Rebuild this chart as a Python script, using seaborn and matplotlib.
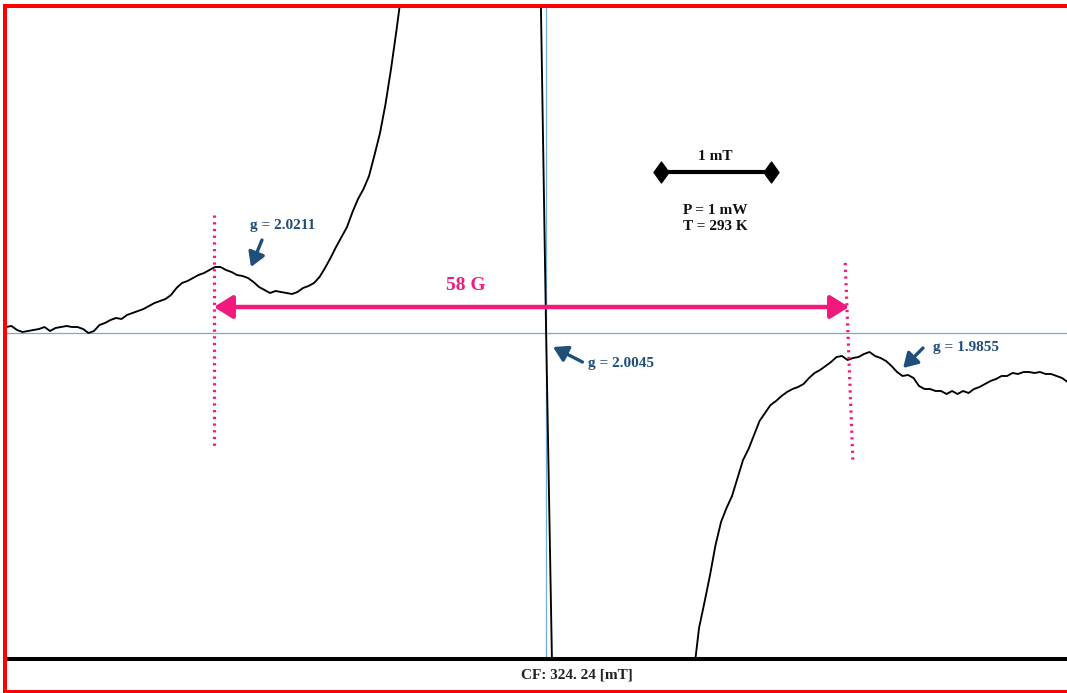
import numpy as np
import pandas as pd
import seaborn as sns
import matplotlib
matplotlib.use("Agg")
import matplotlib.pyplot as plt
from matplotlib.lines import Line2D
from matplotlib.patches import ArrowStyle
from matplotlib import transforms
from matplotlib.path import Path

# --- EPR spectrum (field in mT, signal in a.u.) ---
low_field = [319.05, 319.10, 319.15, 319.20, 319.25, 319.30, 319.35, 319.40, 319.45, 319.50,
             319.55, 319.60, 319.65, 319.70, 319.75, 319.80, 319.85, 319.90, 319.95, 320.00,
             320.05, 320.10, 320.15, 320.20, 320.25, 320.30, 320.35, 320.40, 320.45, 320.50,
             320.55, 320.60, 320.65, 320.70, 320.75, 320.80, 320.85, 320.90, 320.95, 321.00,
             321.05, 321.10, 321.15, 321.20, 321.25, 321.30, 321.35, 321.40, 321.45, 321.50,
             321.55, 321.60, 321.65, 321.70, 321.75, 321.80, 321.85, 321.90, 321.95, 322.00,
             322.05, 322.10, 322.15, 322.20, 322.25, 322.30, 322.35, 322.40, 322.45, 322.50,
             322.55, 322.60, 322.65]
low_signal = [6, 7, 3, 1, 2, 3, 4, 6, 2, 5,
              6, 7, 6, 6, 4, 0, 2, 8, 10, 13,
              15, 14, 18, 20, 22, 24, 27, 30, 32, 34,
              38, 45, 50, 52, 55, 58, 60, 63, 66, 66,
              63, 61, 58, 57, 55, 51, 46, 43, 40, 42,
              41, 40, 39, 41, 45, 47, 50, 56, 65, 75,
              86, 96, 106, 121, 134, 144, 157, 178, 200, 229,
              264, 303, 345]

mid_field = [322.75, 322.90, 323.20, 323.50, 323.70, 323.82, 323.91, 323.96, 324.015,
             324.10, 324.40, 324.80, 325.10, 325.25]
mid_signal = [560, 880, 1350, 1550, 1400, 1000, 345, 0, -340,
              -1100, -1500, -1300, -800, -480]

high_field = [325.30, 325.35, 325.40, 325.45, 325.50, 325.55, 325.60, 325.65, 325.70, 325.75,
              325.80, 325.85, 325.90, 325.95, 326.00, 326.05, 326.10, 326.15, 326.20, 326.25,
              326.30, 326.35, 326.40, 326.45, 326.50, 326.55, 326.60, 326.65, 326.70, 326.75,
              326.80, 326.85, 326.90, 326.95, 327.00, 327.05, 327.10, 327.15, 327.20, 327.25,
              327.30, 327.35, 327.40, 327.45, 327.50, 327.55, 327.60, 327.65, 327.70, 327.75,
              327.80, 327.85, 327.90, 327.95, 328.00, 328.05, 328.10, 328.15, 328.20, 328.25,
              328.30, 328.35, 328.40, 328.45, 328.50, 328.55, 328.60, 328.65, 328.70]
high_signal = [-342, -295, -269, -242, -212, -189, -175, -163, -145, -127,
               -116, -102, -88, -80, -72, -68, -63, -59, -56, -54,
               -51, -45, -40, -37, -33, -29, -24, -23, -27, -25,
               -24, -21, -19, -23, -25, -28, -33, -39, -43, -42,
               -45, -53, -56, -56, -58, -58, -61, -58, -61, -58,
               -60, -56, -54, -51, -48, -46, -43, -43, -40, -41,
               -39, -39, -40, -39, -41, -41, -43, -45, -49]

center_field = 324.24          # mT
g_center_field = 323.96        # zero crossing, g = 2.0045
split_left = 320.94            # mT
split_right = 326.714          # mT
g_labels = ["g = 2.0211", "g = 2.0045", "g = 1.9855"]
power_label = "P = 1 mW"
temp_label = "T = 293 K"

spectrum = pd.DataFrame({
    "field": low_field + mid_field + high_field,
    "signal": low_signal + mid_signal + high_signal,
})

sns.set_theme(style="white")
plt.rcParams["font.family"] = ["Liberation Serif", "DejaVu Serif"]

W, H = 1067, 693
fig = plt.figure(figsize=(W / 100, H / 100), dpi=100)
fig.patch.set_facecolor("white")
ax = fig.add_axes([6 / W, 33.7 / H, 1061 / W, 652.3 / H])

PINK = "#F2197D"
NAVY = "#1F4E79"
LIGHTBLUE = "#6FAED6"


def label(x, y, s, size=11, color="#111111", ha="center", **kw):
    return ax.text(x, y, s, fontsize=size, fontweight="bold", color=color,
                   ha=ha, va="center", **kw)


# reference axes through the central line
ax.axhline(0, color=LIGHTBLUE, lw=0.9, zorder=1)
ax.axvline(g_center_field, color=LIGHTBLUE, lw=0.9, zorder=1)

sns.lineplot(data=spectrum, x="field", y="signal", sort=False, estimator=None,
             color="black", lw=1.35, ax=ax, zorder=3)

ax.set_xlim(319.05, 328.695)
ax.set_ylim(-326.3, 326)
ax.set_xticks([])
ax.set_yticks([])
ax.set_xlabel("")
ax.set_ylabel("")
for s in ["top", "left", "right"]:
    ax.spines[s].set_visible(False)
ax.spines["bottom"].set_color("black")
ax.spines["bottom"].set_linewidth(2.9)

# centre field label under the axis
blend = transforms.blended_transform_factory(ax.transData, ax.transAxes)
label(center_field, -0.024, "CF: 324. 24 [mT]", color="#222222",
      transform=blend, clip_on=False)

# splitting markers
dot = (0, (0.7, 1.4))
ax.plot([split_left, split_left], [118, -114], color=PINK, lw=2.3, ls=dot, zorder=4)
ax.plot([split_right - 0.035, split_right + 0.035], [70, -129], color=PINK, lw=2.3, ls=dot, zorder=4)
ax.annotate("", xy=(split_left, 26), xytext=(split_right, 26),
            arrowprops=dict(arrowstyle=ArrowStyle("<|-|>", head_length=0.45, head_width=0.28),
                            color=PINK, lw=3.2, mutation_scale=25, shrinkA=0, shrinkB=0),
            zorder=5)
label(323.23, 48, "58 G", size=14, color=PINK)

# g-value labels with arrows
g_arrow = dict(arrowstyle=ArrowStyle("-|>", head_length=0.5, head_width=0.3),
               color=NAVY, lw=2.4, mutation_scale=17, shrinkA=0, shrinkB=0)
ax.annotate("", xy=(321.277, 66), xytext=(321.377, 93), arrowprops=g_arrow, zorder=5)
label(321.268, 107, g_labels[0], color=NAVY, ha="left")
ax.annotate("", xy=(324.023, -14), xytext=(324.29, -29), arrowprops=g_arrow, zorder=5)
label(324.34, -30, g_labels[1], color=NAVY, ha="left")
ax.annotate("", xy=(327.205, -35), xytext=(327.386, -15), arrowprops=g_arrow, zorder=5)
label(327.477, -14, g_labels[2], color=NAVY, ha="left")

# 1 mT scale bar and conditions
diamond = Path([(0, 1), (0.72, 0), (0, -1), (-0.72, 0), (0, 1)],
               [Path.MOVETO, Path.LINETO, Path.LINETO, Path.LINETO, Path.CLOSEPOLY])
ax.plot([325.0, 326.0], [161, 161], color="black", lw=3, marker=diamond, markersize=15,
        markerfacecolor="black", markeredgecolor="black", solid_capstyle="butt", zorder=5)
label(325.5, 177, "1 mT")
label(325.5, 123, power_label)
label(325.5, 107, temp_label)

# red frame
frame_kw = dict(transform=fig.transFigure, color="#FF0000", lw=2.9, solid_capstyle="butt")
fig.add_artist(Line2D([3 / W, 1], [1 - 5.7 / H] * 2, **frame_kw))
fig.add_artist(Line2D([4.8 / W] * 2, [0, 1 - 3.7 / H], **frame_kw))
fig.add_artist(Line2D([3 / W, 1], [1.2 / H] * 2, **frame_kw))

fig.savefig("out.png", dpi=100, facecolor="white")
